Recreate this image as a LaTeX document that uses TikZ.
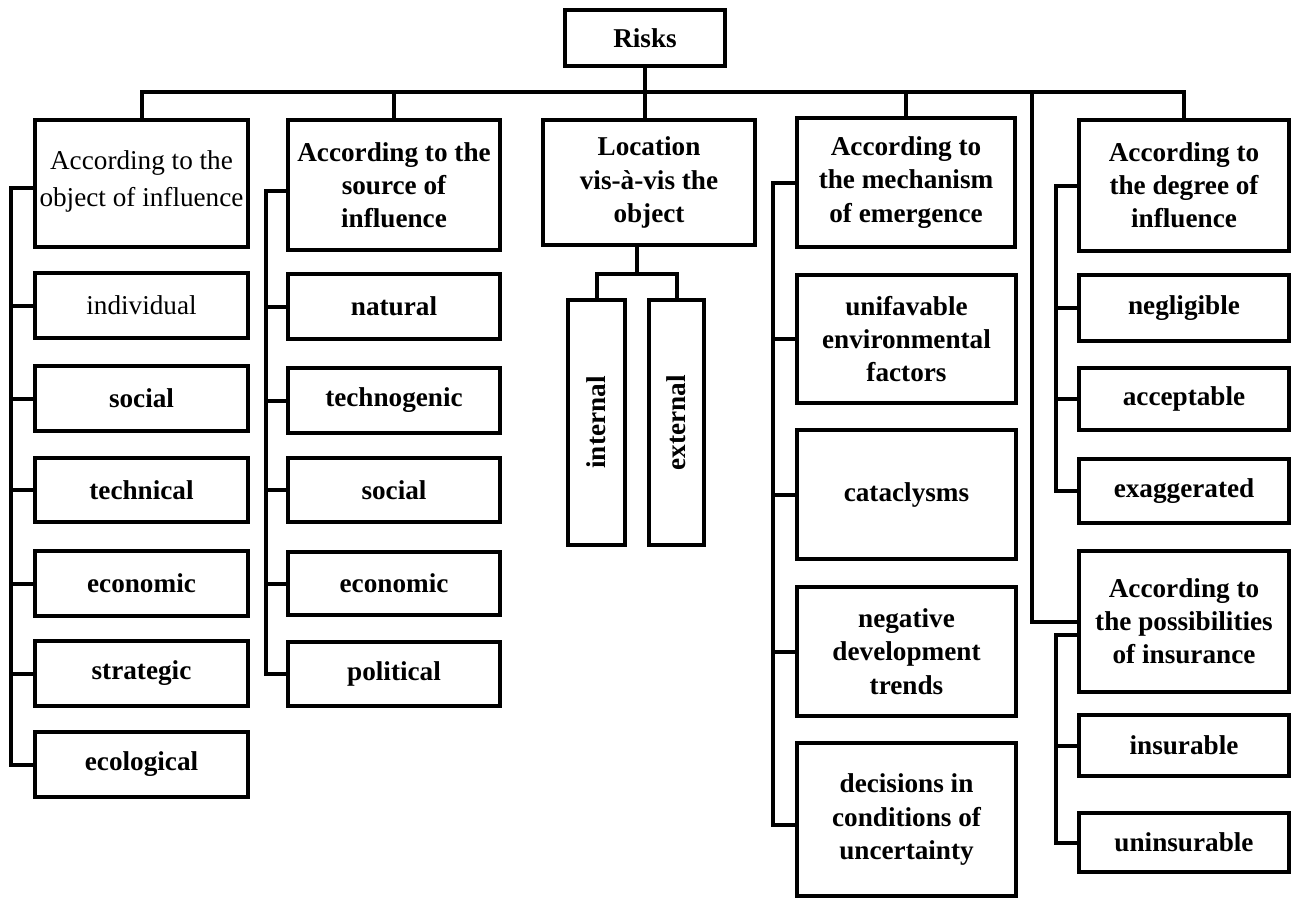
\documentclass[tikz,border=0pt]{standalone}
\usepackage{fontspec}
\setmainfont{Liberation Serif}
\newcommand\mybox[7]{%
  \node[bx,#6, minimum width={(#4-#2)*0.5pt}, minimum height={(#5-#3)*0.5pt}]
    (#1) at ({(#2+#4)/2},{(#3+#5)/2}) {#7};}
\begin{document}
\begin{tikzpicture}[x=0.5pt,y=-0.5pt, line width=2pt,
  bx/.style={draw, line width=2pt, inner sep=0pt, align=center,
    font=\fontsize{13.6}{16.6}\selectfont\bfseries},
  reg/.style={font=\fontsize{13.6}{16.6}\selectfont},
  regwide/.style={font=\fontsize{13.6}{18.5}\selectfont}]
\useasboundingbox (0,0) rectangle (1293,899);

% root
\mybox{risks}{565}{10}{725}{66}{}{Risks}

% level 1
\mybox{obj}{35}{120}{248}{247}{regwide}{According to the\\object of influence\\[-14pt]}
\mybox{src}{288}{120}{500}{250}{}{According to the\\source of\\influence}
\mybox{loc}{543}{120}{755}{245}{}{Location\\vis-\`a-vis the\\object}
\mybox{mech}{797}{118}{1015}{247}{}{According to\\the mechanism\\of emergence}
\mybox{deg}{1079}{120}{1289}{251}{}{According to\\the degree of\\influence}

% column 1
\mybox{individual}{35}{273}{248}{338}{reg}{individual}
\mybox{social}{35}{366}{248}{431}{}{social}
\mybox{technical}{35}{458}{248}{522}{}{technical}
\mybox{economic}{35}{551}{248}{616}{}{economic}
\mybox{strategic}{35}{641}{248}{706}{}{strategic}
\mybox{ecological}{35}{732}{248}{797}{}{ecological}

% column 2
\mybox{natural}{288}{274}{500}{339}{}{natural}
\mybox{technogenic}{288}{368}{500}{433}{}{technogenic}
\mybox{socialb}{288}{458}{500}{522}{}{social}
\mybox{economicb}{288}{552}{500}{615}{}{economic}
\mybox{political}{288}{642}{500}{706}{}{political}

% column 3
\mybox{internal}{568}{300}{625}{545}{}{\rotatebox{90}{internal}}
\mybox{external}{649}{300}{704}{545}{}{\rotatebox{90}{external}}

% column 4
\mybox{unfav}{797}{275}{1016}{403}{}{unifavable\\environmental\\factors}
\mybox{cata}{797}{430}{1016}{559}{}{cataclysms}
\mybox{neg}{797}{587}{1016}{716}{}{negative\\development\\trends}
\mybox{dec}{797}{743}{1016}{896}{}{decisions in\\conditions of\\uncertainty}

% column 5
\mybox{negl}{1079}{275}{1289}{341}{}{negligible}
\mybox{acc}{1079}{368}{1289}{430}{}{acceptable}
\mybox{exag}{1079}{459}{1289}{523}{}{exaggerated}
\mybox{poss}{1079}{551}{1289}{692}{}{According to\\the possibilities\\of insurance}
\mybox{ins}{1079}{715}{1289}{776}{}{insurable}
\mybox{unins}{1079}{813}{1289}{872}{}{uninsurable}

% bus
\coordinate (bus) at (645,92);
\coordinate (busr) at (1032,92);
\draw (risks.south) -- (risks.south |- loc.north);
\draw (obj.north) |- (bus) -| (deg.north);
\draw (src.north) -- (src.north |- bus);
\draw (mech.north) -- (mech.north |- bus);
\draw (busr) |- (poss.west);

% column 1 rail
\draw ([yshift=-2pt]obj.west) -- ++(-22,0) |- (ecological.west);
\foreach \c in {individual,social,technical,economic,strategic}
  \draw (\c.west) -- ++(-22,0);

% column 2 rail
\draw ([yshift=-3pt]src.west) -- ++(-20,0) |- (political.west);
\foreach \c in {natural,technogenic,socialb,economicb}
  \draw (\c.west) -- ++(-20,0);

% column 3
\draw ([xshift=-6pt]loc.south) -- ++(0,27) coordinate (lj);
\draw (internal.north) |- (lj) -| (external.north);

% column 4 rail
\draw (mech.west) -- ++(-22,0) |- ([yshift=-2.5pt]dec.west);
\foreach \c in {unfav,cata,neg}
  \draw (\c.west) -- ++(-22,0);

% column 5 rails
\draw (deg.west) -- ++(-21,0) |- (exag.west);
\foreach \c in {negl,acc}
  \draw (\c.west) -- ++(-21,0);
\draw ([yshift=-6.5pt]poss.west) -- ++(-21,0) |- (unins.west);
\draw (ins.west) -- ++(-21,0);
\end{tikzpicture}
\end{document}
